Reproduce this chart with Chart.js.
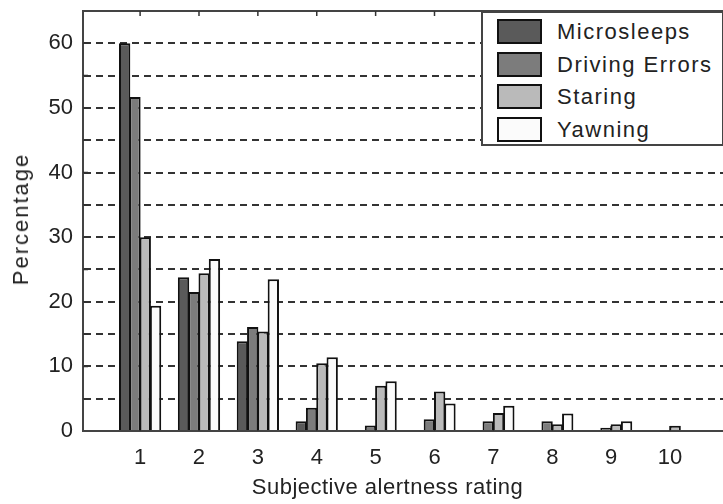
<!DOCTYPE html>
<html>
<head>
<meta charset="utf-8">
<script src="https://cdn.jsdelivr.net/npm/chart.js@4.4.1/dist/chart.umd.min.js"></script>
<style>
  body { margin: 0; background: #fff; }
  .wrap { position: relative; width: 723px; height: 504px; overflow: hidden; }
  .legend-box {
    position: absolute; left: 481px; top: 11px; width: 243px; height: 135px;
    border: 2px solid #444; box-sizing: border-box; background: #fff;
    font-family: "Liberation Sans", Arial, sans-serif; font-size: 22px; color: #222;
    letter-spacing: 1.5px;
  }
  .legend-row { position: absolute; left: 14px; height: 25px; }
  .legend-row .sw { position: absolute; left: 0; top: 0; width: 45px; height: 25px; border: 2px solid #111; box-sizing: border-box; }
  .legend-row .lbl { position: absolute; left: 60px; top: 0; line-height: 25px; white-space: nowrap; }
  .x-title {
    position: absolute; top: 474px; left: 0; width: 775px; text-align: center;
    font-family: "Liberation Sans", Arial, sans-serif; font-size: 22px; color: #222; line-height: 26px;
    letter-spacing: 0.5px;
  }
  .y-title {
    position: absolute; left: 21px; top: 219px; white-space: nowrap;
    transform: translate(-50%, -50%) rotate(-90deg);
    font-family: "Liberation Sans", Arial, sans-serif; font-size: 22px; color: #222; line-height: 26px;
    letter-spacing: 2px;
  }
</style>
</head>
<body>
<div class="wrap" id="wrap">
  <canvas id="c" width="723" height="504"></canvas>
</div>
<script>
// dados
const ratings = [1, 2, 3, 4, 5, 6, 7, 8, 9, 10]
const microsleeps = [60, 23.8, 13.9, 1.5, 0, 0, 0, 0, 0, 0]
const drivingErrors = [51.7, 21.5, 16.1, 3.6, 0.85, 1.8, 1.5, 1.5, 0.5, 0]
const staring = [30.0, 24.4, 15.4, 10.5, 7.0, 6.1, 2.8, 1.05, 1.05, 0.8]
const yawning = [19.4, 26.6, 23.5, 11.4, 7.7, 4.25, 3.9, 2.7, 1.5, 0]

const seriesNames = ['Microsleeps', 'Driving Errors', 'Staring', 'Yawning']
const seriesValues = [microsleeps, drivingErrors, staring, yawning]
const seriesColors = ['#5a5a5a', '#7c7c7c', '#bababa', '#fbfbfb']

const yTicks = [0, 10, 20, 30, 40, 50, 60]

Chart.defaults.font.family = '"Liberation Sans", Arial, sans-serif'
Chart.defaults.font.size = 22
Chart.defaults.color = '#222'

// ticks para dentro do eixo (estilo matlab)
const inwardTicks = {
  id: 'inwardTicks',
  beforeDatasetsDraw(chart) {
    const {ctx, chartArea, scales} = chart
    ctx.save()
    ctx.strokeStyle = '#333'
    ctx.lineWidth = 1.5
    ctx.beginPath()
    for (let v = 5; v < 65; v += 5) {
      const y = scales.y.getPixelForValue(v)
      ctx.moveTo(chartArea.left, y)
      ctx.lineTo(chartArea.left + 5, y)
    }
    ratings.forEach(r => {
      const x = scales.x.getPixelForValue(r)
      ctx.moveTo(x, chartArea.top)
      ctx.lineTo(x, chartArea.top + 5)
      ctx.moveTo(x, chartArea.bottom)
      ctx.lineTo(x, chartArea.bottom - 5)
    })
    ctx.stroke()
    ctx.restore()
  }
}

const datasets = seriesNames.map((name, i) => ({
  label: name,
  data: ratings.map((r, j) => ({x: r, y: seriesValues[i][j]})),
  backgroundColor: seriesColors[i],
  borderColor: '#111',
  borderWidth: 2,
  categoryPercentage: 0.7,
  barPercentage: 1.1
}))

// sem padding extra das labels
function noPad(s) {
  s.paddingTop = 0
  s.paddingBottom = 0
  s.paddingLeft = 0
  s.paddingRight = 0
}

new Chart(document.getElementById('c'), {
  type: 'bar',
  data: { datasets: datasets },
  options: {
    responsive: false,
    animation: false,
    devicePixelRatio: 1,
    layout: { padding: 0 },
    plugins: { legend: { display: false }, tooltip: { enabled: false } },
    scales: {
      x: {
        type: 'linear',
        offset: false,
        min: 0.03,
        max: 10.9,
        afterBuildTicks: s => { s.ticks = ratings.map(v => ({value: v})) },
        afterFit: s => { s.height = 73; noPad(s) },
        grid: { display: false },
        border: { display: true, color: '#444', width: 2 },
        ticks: { padding: 6, autoSkip: false, maxRotation: 0 }
      },
      x2: {
        type: 'linear',
        position: 'top',
        offset: false,
        min: 0.03,
        max: 10.9,
        afterFit: s => { s.height = 11; noPad(s) },
        grid: { display: false },
        border: { display: true, color: '#444', width: 2 },
        ticks: { display: false }
      },
      y: {
        min: 0,
        max: 65,
        afterBuildTicks: s => {
          const t = []
          for (let v = 0; v <= 65; v += 5) t.push({value: v})
          s.ticks = t
        },
        afterFit: s => { s.width = 83; noPad(s) },
        ticks: {
          padding: 10,
          callback: v => yTicks.includes(v) ? String(v) : ''
        },
        grid: {
          drawTicks: false,
          color: c => (c.tick.value === 0 || c.tick.value === 65) ? 'rgba(0,0,0,0)' : '#333',
          lineWidth: 2
        },
        border: { display: true, color: '#444', width: 2, dash: [7, 5] }
      }
    }
  },
  plugins: [inwardTicks]
})

// legenda em html, dentro da area do grafico
const wrap = document.getElementById('wrap')
const legendBox = document.createElement('div')
legendBox.className = 'legend-box'
seriesNames.forEach((name, i) => {
  const row = document.createElement('div')
  row.className = 'legend-row'
  row.style.top = (6 + i * 32.5) + 'px'
  const sw = document.createElement('div')
  sw.className = 'sw'
  sw.style.background = seriesColors[i]
  const lbl = document.createElement('div')
  lbl.className = 'lbl'
  lbl.textContent = name
  row.appendChild(sw)
  row.appendChild(lbl)
  legendBox.appendChild(row)
})
wrap.appendChild(legendBox)

// titulos dos eixos
const xTitle = document.createElement('div')
xTitle.className = 'x-title'
xTitle.textContent = 'Subjective alertness rating'
wrap.appendChild(xTitle)

const yTitle = document.createElement('div')
yTitle.className = 'y-title'
yTitle.textContent = 'Percentage'
wrap.appendChild(yTitle)
</script>
</body>
</html>
